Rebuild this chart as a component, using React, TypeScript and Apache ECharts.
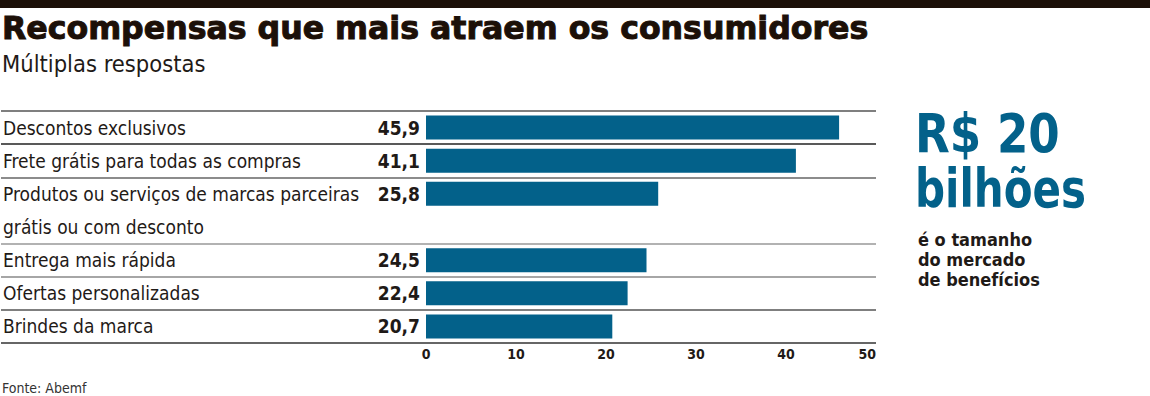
import React, { useEffect, useRef } from "react";
import * as echarts from "echarts";

const categories = [
  "Descontos exclusivos",
  "Frete grátis para todas as compras",
  "Produtos ou serviços de marcas parceiras\ngrátis ou com desconto",
  "Entrega mais rápida",
  "Ofertas personalizadas",
  "Brindes da marca",
];
const values = [45.9, 41.1, 25.8, 24.5, 22.4, 20.7];
const xTicks = { min: 0, max: 50, interval: 10 };

const TITLE = "Recompensas que mais atraem os consumidores";
const SUBTITLE = "Múltiplas respostas";
const SOURCE = "Fonte: Abemf";
const HIGHLIGHT = ["R$ 20", "bilhões"];
const HIGHLIGHT_NOTE = "é o tamanho\ndo mercado\nde benefícios";

const COND = "'DejaVu Sans Condensed', 'DejaVu Sans', sans-serif";
const WIDE = "'DejaVu Sans', sans-serif";
const NARROW = "'Liberation Sans Narrow', 'DejaVu Sans Condensed', sans-serif";
const BLUE = "#03618a";
const INK = "#1c1008";

// build slots: each line of a label is a slot; value sits on the first line
const slotLabels: string[] = [];
const slotValues: (number | null)[] = [];
const slotIsContinuation: boolean[] = [];
categories.forEach((c, i) => {
  c.split("\n").forEach((line, j) => {
    slotLabels.push(line);
    slotValues.push(j === 0 ? values[i] : null);
    slotIsContinuation.push(j > 0);
  });
});

const fmt = (v: number) => v.toFixed(1).replace(".", ",");

export default function App() {
  const ref = useRef<HTMLDivElement>(null);
  useEffect(() => {
    if (!ref.current) return;
    const chart = echarts.init(ref.current, null, { renderer: "svg" });
    const gridTop = 111;
    const gridHeight = 232;
    const rightEdge = 876;
    chart.setOption({
      animation: false,
      backgroundColor: "#ffffff",
      grid: [
        { left: 0, right: 1150 - rightEdge, top: gridTop, height: gridHeight, containLabel: false },
        { left: 426, right: 1150 - rightEdge, top: gridTop, height: gridHeight, containLabel: false },
      ],
      xAxis: [
        { gridIndex: 0, type: "value", show: false, min: 0, max: 1 },
        {
          gridIndex: 1,
          type: "value",
          min: xTicks.min,
          max: xTicks.max,
          interval: xTicks.interval,
          axisLine: { show: false },
          axisTick: { show: false },
          splitLine: { show: false },
          axisLabel: {
            color: "#1f1a17",
            fontFamily: COND,
            fontWeight: "bold",
            fontSize: 14,
            margin: 4,
            alignMaxLabel: "right",
          },
        },
      ],
      yAxis: [
        {
          gridIndex: 0,
          type: "category",
          inverse: true,
          data: slotLabels,
          axisLine: { show: false },
          axisTick: { show: false },
          axisLabel: {
            inside: true,
            margin: 2,
            color: "#1f1a17",
            fontFamily: NARROW,
            fontSize: 19,
            interval: 0,
          },
          splitLine: {
            show: true,
            interval: (index: number) => !slotIsContinuation[index],
            lineStyle: {
              color: ["#555555", "#222222", "#666666", "#999999", "#888888", "#555555", "#333333"],
              width: 1.5,
            },
          },
        },
        {
          gridIndex: 1,
          type: "category",
          inverse: true,
          data: slotLabels,
          show: false,
        },
      ],
      series: [
        {
          type: "bar",
          xAxisIndex: 1,
          yAxisIndex: 1,
          data: slotValues,
          barWidth: 24,
          itemStyle: { color: BLUE },
          label: {
            show: true,
            position: "left",
            distance: 6,
            formatter: (p: any) => fmt(p.value),
            color: "#1f1a17",
            fontFamily: COND,
            fontWeight: "bold",
            fontSize: 19,
          },
        },
      ],
      graphic: [
        { type: "rect", left: 0, top: 0, shape: { width: 1150, height: 8 }, style: { fill: INK } },
        {
          type: "text",
          x: 2,
          y: 12,
          style: {
            text: TITLE,
            fill: INK,
            font: `bold 31.6px ${WIDE}`,
            textVerticalAlign: "top",
            stroke: INK,
            lineWidth: 1,
          },
        },
        {
          type: "text",
          x: 2,
          y: 52,
          style: { text: SUBTITLE, fill: "#1f1a17", font: `23.5px ${NARROW}`, textVerticalAlign: "top" },
        },
        {
          type: "text",
          x: 915,
          y: 106,
          scaleX: 0.93,
          style: { text: HIGHLIGHT[0], fill: BLUE, font: `bold 54px ${COND}`, textVerticalAlign: "top" },
        },
        {
          type: "text",
          x: 915,
          y: 161,
          scaleX: 0.865,
          style: { text: HIGHLIGHT[1], fill: BLUE, font: `bold 54px ${COND}`, textVerticalAlign: "top" },
        },
        {
          type: "text",
          x: 918,
          y: 229,
          style: {
            text: HIGHLIGHT_NOTE,
            fill: "#1f1a17",
            font: `bold 18px ${COND}`,
            lineHeight: 20,
            textVerticalAlign: "top",
          },
        },
        {
          type: "text",
          x: 2,
          y: 381,
          style: { text: SOURCE, fill: "#333333", font: `14px ${NARROW}`, textVerticalAlign: "top" },
        },
      ],
    });
    return () => chart.dispose();
  }, []);
  return (
    <div
      ref={ref}
      style={{ position: "absolute", left: 0, top: 0, width: 1150, height: 396 }}
    />
  );
}
